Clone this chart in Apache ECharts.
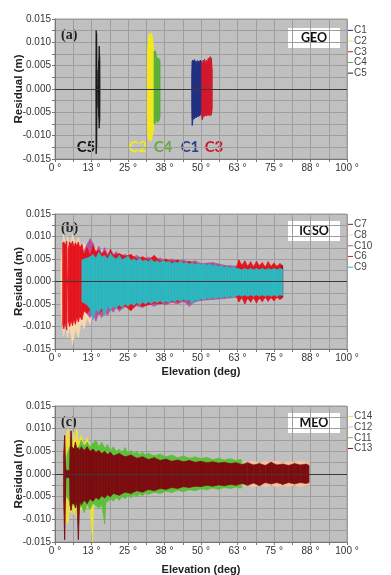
<!DOCTYPE html>
<html><head><meta charset="utf-8">
<script src="https://cdn.jsdelivr.net/npm/echarts@6/dist/echarts.min.js"></script>
<style>html,body{margin:0;padding:0;background:#fff}#c{width:391px;height:575px}</style>
</head><body><div id="c"></div>
<script>
// ---------- tick values ----------
const xMin = 0, xMax = 100, xStep = 6.25, xLabelStep = 12.5;
const yMin = -0.015, yMax = 0.015, yStep = 0.0025, yLabelStep = 0.005;

// ---------- (a) GEO ----------
const C5_el = [14.0, 14.1, 14.25, 14.4, 14.5, 14.9, 15.0, 15.15, 15.3, 15.4];
const C5_hi = [0, 0.0125, 0.0118, 0.004, 0.0005, 0.0005, 0.006, 0.0092, 0.007, 0];
const C5_lo = [0, -0.0139, -0.0125, -0.004, -0.0005, -0.0005, -0.006, -0.0084, -0.007, 0];

const C2_el = [31.6, 31.8, 32.0, 32.2, 32.5, 32.8, 33.1, 33.4, 33.7, 33.9];
const C2_hi = [0.004, 0.009, 0.011, 0.0115, 0.012, 0.0105, 0.012, 0.011, 0.0095, 0.007];
const C2_lo = [-0.005, -0.010, -0.011, -0.0105, -0.011, -0.0112, -0.0105, -0.010, -0.009, -0.008];

const C4_el = [33.9, 34.2, 34.5, 34.8, 35.2, 35.6, 36.0];
const C4_hi = [0.008, 0.0082, 0.0078, 0.0068, 0.0066, 0.0065, 0.006];
const C4_lo = [-0.0073, -0.0075, -0.007, -0.0068, -0.0072, -0.0068, -0.006];

const C1_el = [46.8, 47.0, 47.25, 47.5, 47.75, 48.0, 48.25, 48.5, 48.75, 49.0, 49.25, 49.5, 49.75, 50.0, 50.2];
const C1_hi = [0.003, 0.006, 0.0062, 0.0055, 0.0063, 0.0058, 0.006, 0.0052, 0.0061, 0.0057, 0.006, 0.0055, 0.0062, 0.006, 0.0058];
const C1_lo = [-0.004, -0.0078, -0.0066, -0.006, -0.0064, -0.0058, -0.0062, -0.006, -0.0057, -0.006, -0.0055, -0.0058, -0.0056, -0.0052, -0.005];

const C3_el = [50.2, 50.5, 50.75, 51.0, 51.25, 51.5, 51.75, 52.0, 52.25, 52.5, 52.75, 53.0, 53.3, 53.6, 53.9];
const C3_hi = [0.0058, 0.0055, 0.0062, 0.0056, 0.0064, 0.0058, 0.0052, 0.0062, 0.0057, 0.0066, 0.006, 0.0068, 0.0069, 0.0064, 0.004];
const C3_lo = [-0.0062, -0.0066, -0.0058, -0.006, -0.0055, -0.0057, -0.0054, -0.0058, -0.0052, -0.0056, -0.0055, -0.0058, -0.0052, -0.0056, -0.004];

// ---------- (b) IGSO ----------
const C8_el = [2, 3, 3.5, 4.3, 5, 6, 7, 8, 9, 10, 11, 12, 13, 14, 15, 16, 18, 20, 25, 30, 40, 50, 60, 70, 77];
const C8_hi = [0.004, 0.0105, 0.006, 0.010, 0.007, 0.0105, 0.008, 0.0098, 0.007, 0.0085, 0.0065, 0.009, 0.006, 0.0075, 0.0055, 0.007, 0.0055, 0.006, 0.0055, 0.0045, 0.004, 0.0036, 0.003, 0.0032, 0.003];
const C8_lo = [-0.006, -0.012, -0.008, -0.0125, -0.010, -0.014, -0.0105, -0.0125, -0.009, -0.0105, -0.008, -0.0095, -0.0065, -0.008, -0.006, -0.0075, -0.006, -0.0058, -0.0055, -0.0048, -0.0042, -0.0038, -0.0032, -0.0033, -0.003];

const C10_el = [10, 12, 13, 14, 15, 16, 17, 18, 19, 20, 21, 22, 24, 26, 28, 30, 32, 34, 36, 38, 40, 42, 44, 46, 48, 50, 54, 58, 62, 66, 70, 74, 77, 78];
const C10_hi = [0.007, 0.0095, 0.0085, 0.0065, 0.0078, 0.0062, 0.0075, 0.006, 0.0068, 0.006, 0.0066, 0.0055, 0.006, 0.0052, 0.0058, 0.005, 0.0054, 0.0048, 0.0052, 0.0046, 0.005, 0.0045, 0.0048, 0.0042, 0.0046, 0.004, 0.0042, 0.0036, 0.0034, 0.003, 0.0033, 0.0031, 0.0036, 0.003];
const C10_lo = [-0.0065, -0.008, -0.007, -0.0088, -0.007, -0.008, -0.0068, -0.0075, -0.0062, -0.0068, -0.0058, -0.0066, -0.0056, -0.0062, -0.0054, -0.0058, -0.005, -0.0055, -0.0048, -0.0052, -0.0046, -0.005, -0.0044, -0.0055, -0.0045, -0.0042, -0.004, -0.0038, -0.0035, -0.0034, -0.0036, -0.0033, -0.0035, -0.003];

const C6_el = [2.6, 3, 3.5, 4, 4.2, 4.4, 4.6, 5, 5.5, 6, 6.5, 7, 7.5, 8, 8.5, 9.2, 10, 11, 12, 13, 14, 15, 16, 17, 18, 19, 20, 22, 24, 26, 28, 30, 32, 34, 36, 38, 40, 42, 44, 46, 48, 50, 55, 60, 62, 63, 64, 65, 66, 67, 68, 69, 70, 71, 72, 73, 74, 75, 76, 77, 78];
const C6_hi = [0.0085, 0.0088, 0.008, 0.009, 0.0005, 0.0005, 0.0075, 0.0088, 0.0082, 0.009, 0.0078, 0.0086, 0.008, 0.0088, 0.0076, 0.0082, 0.006, 0.0075, 0.0058, 0.008, 0.0065, 0.007, 0.006, 0.0068, 0.0055, 0.0072, 0.0058, 0.0062, 0.0056, 0.006, 0.005, 0.0055, 0.0048, 0.0058, 0.0045, 0.005, 0.0044, 0.0048, 0.0042, 0.0045, 0.004, 0.0038, 0.0035, 0.0032, 0.003, 0.0048, 0.0036, 0.0046, 0.0034, 0.0044, 0.0033, 0.0045, 0.0035, 0.0042, 0.0032, 0.0044, 0.0034, 0.0041, 0.0033, 0.004, 0.0035];
const C6_lo = [-0.0095, -0.0105, -0.0092, -0.0108, -0.0005, -0.0005, -0.009, -0.010, -0.0088, -0.0098, -0.0085, -0.0095, -0.008, -0.009, -0.0078, -0.0085, -0.0065, -0.007, -0.0062, -0.008, -0.006, -0.0072, -0.0065, -0.006, -0.0058, -0.0062, -0.0056, -0.006, -0.0054, -0.0065, -0.005, -0.0055, -0.0052, -0.0048, -0.005, -0.0046, -0.0044, -0.0045, -0.0042, -0.0044, -0.004, -0.0038, -0.0036, -0.0034, -0.0032, -0.0045, -0.0036, -0.005, -0.0037, -0.0046, -0.0036, -0.0048, -0.0037, -0.0045, -0.0035, -0.0044, -0.0036, -0.0043, -0.0035, -0.004, -0.0036];

const C7_el = [77.5, 77.7, 77.9];
const C7_hi = [0.0035, 0.0036, 0.0034];
const C7_lo = [-0.0036, -0.0035, -0.0034];

const C9_el = [9.2, 10, 11, 12, 13, 14, 15, 16, 17, 18, 19, 20, 21, 22, 23, 24, 25, 26, 27, 28, 29, 30, 31, 32, 33, 34, 35, 36, 37, 38, 39, 40, 41, 42, 43, 44, 45, 46, 47, 48, 49, 50, 51, 52, 53, 54, 55, 56, 57, 58, 59, 60, 61, 62, 63, 64, 65, 66, 67, 68, 69, 70, 71, 72, 73, 74, 75, 76, 77, 78];
const C9_hi = [0.0048, 0.005, 0.0052, 0.0055, 0.006, 0.0052, 0.0065, 0.0055, 0.0058, 0.005, 0.0062, 0.0054, 0.005, 0.0058, 0.0048, 0.0052, 0.0056, 0.0047, 0.005, 0.0046, 0.0052, 0.0045, 0.0048, 0.0044, 0.005, 0.0043, 0.0046, 0.0042, 0.0047, 0.0043, 0.0045, 0.004, 0.0044, 0.0041, 0.0046, 0.004, 0.0043, 0.0039, 0.0042, 0.0038, 0.0041, 0.0037, 0.004, 0.0036, 0.0039, 0.0035, 0.0037, 0.0033, 0.0036, 0.0032, 0.0034, 0.0031, 0.0033, 0.003, 0.0028, 0.0026, 0.0029, 0.0026, 0.0029, 0.0026, 0.0029, 0.0026, 0.0029, 0.0026, 0.0029, 0.0026, 0.0029, 0.0026, 0.0029, 0.0027];
const C9_lo = [-0.0045, -0.0048, -0.0052, -0.006, -0.0085, -0.0062, -0.007, -0.0058, -0.0075, -0.0056, -0.0064, -0.0055, -0.006, -0.0052, -0.0058, -0.005, -0.0055, -0.0049, -0.0053, -0.0047, -0.0052, -0.0046, -0.005, -0.0045, -0.0049, -0.0044, -0.0047, -0.0043, -0.0048, -0.0044, -0.0046, -0.0042, -0.0045, -0.0041, -0.0044, -0.004, -0.0043, -0.0041, -0.005, -0.004, -0.0043, -0.0038, -0.0041, -0.0037, -0.0039, -0.0036, -0.0038, -0.0035, -0.0037, -0.0034, -0.0036, -0.0033, -0.0035, -0.0032, -0.003, -0.0033, -0.003, -0.0033, -0.003, -0.0033, -0.003, -0.0033, -0.003, -0.0033, -0.003, -0.0033, -0.003, -0.0033, -0.003, -0.0031];

// ---------- (c) MEO ----------
const C12_el = [10, 20, 30, 40, 50, 60, 64, 66, 68, 70, 72, 74, 76, 78, 80, 82, 84, 86, 87];
const C12_hi = [0.003, 0.003, 0.0028, 0.0026, 0.0025, 0.0024, 0.0028, 0.0025, 0.0029, 0.0024, 0.0028, 0.0025, 0.0029, 0.0024, 0.0028, 0.0025, 0.0029, 0.0026, 0.0026];
const C12_lo = [-0.003, -0.003, -0.0028, -0.0026, -0.0025, -0.0024, -0.0027, -0.0024, -0.0029, -0.0025, -0.0028, -0.0024, -0.0029, -0.0025, -0.0028, -0.0024, -0.0029, -0.0025, -0.0025];

const C14_el = [3.5, 3.8, 4.2, 4.6, 5.0, 5.5, 6, 6.5, 7, 7.5, 8, 9, 10, 11, 12, 12.8, 13.3, 14, 15, 16, 17, 18, 20];
const C14_hi = [0.002, 0.008, 0.0095, 0.010, 0.006, 0.0075, 0.006, 0.0092, 0.0065, 0.010, 0.007, 0.0085, 0.0065, 0.008, 0.006, 0.0065, 0.0068, 0.0055, 0.006, 0.005, 0.0055, 0.0045, 0.004];
const C14_lo = [-0.004, -0.010, -0.011, -0.0105, -0.007, -0.0085, -0.007, -0.009, -0.0075, -0.0095, -0.007, -0.008, -0.0065, -0.0075, -0.007, -0.015, -0.0065, -0.0062, -0.006, -0.0055, -0.0052, -0.0045, -0.004];

const C11_el = [4, 5, 6, 7, 8, 9, 10, 11, 12, 13, 14, 15, 16, 17, 17.5, 18, 19, 20, 21, 22, 23, 24, 25, 26, 27, 28, 29, 30, 31, 32, 34, 36, 38, 40, 42, 44, 46, 48, 50, 52, 54, 56, 58, 60, 62, 63.5, 64];
const C11_hi = [0.004, 0.006, 0.005, 0.0065, 0.0055, 0.0075, 0.0062, 0.007, 0.006, 0.0068, 0.0075, 0.006, 0.007, 0.0058, 0.006, 0.0065, 0.0052, 0.006, 0.005, 0.0055, 0.0048, 0.0058, 0.0046, 0.0052, 0.0045, 0.005, 0.0043, 0.0048, 0.0042, 0.0046, 0.004, 0.0044, 0.0038, 0.0042, 0.0036, 0.004, 0.0035, 0.0038, 0.0034, 0.0037, 0.0032, 0.0035, 0.0031, 0.0034, 0.003, 0.0032, 0.003];
const C11_lo = [-0.005, -0.006, -0.007, -0.0065, -0.008, -0.007, -0.0085, -0.0068, -0.0078, -0.0065, -0.007, -0.0075, -0.0068, -0.011, -0.006, -0.0062, -0.0055, -0.006, -0.0052, -0.0058, -0.005, -0.0054, -0.0048, -0.0052, -0.0046, -0.005, -0.0044, -0.0048, -0.0042, -0.0045, -0.004, -0.0043, -0.0038, -0.0041, -0.0036, -0.0039, -0.0035, -0.0037, -0.0033, -0.0035, -0.0031, -0.0034, -0.003, -0.0032, -0.0029, -0.0031, -0.003];

const C13_el = [2.9, 3.3, 3.6, 3.8, 5.0, 5.2, 5.5, 5.8, 6.5, 7, 7.5, 8, 8.5, 9, 10, 11, 12, 13, 14, 15, 16, 17, 18, 19, 20, 22, 24, 26, 28, 30, 32, 34, 36, 38, 40, 42, 44, 46, 48, 50, 52, 54, 56, 58, 60, 62, 64, 66, 68, 70, 72, 74, 76, 78, 80, 82, 84, 86, 87];
const C13_hi = [0.004, 0.0085, 0.003, 0.0008, 0.0008, 0.0055, 0.0095, 0.006, 0.0055, 0.007, 0.0055, 0.0058, 0.0052, 0.006, 0.0052, 0.006, 0.005, 0.0055, 0.0048, 0.0052, 0.0045, 0.005, 0.0043, 0.0048, 0.004, 0.0045, 0.0038, 0.0042, 0.0035, 0.0038, 0.0032, 0.0036, 0.003, 0.0033, 0.0028, 0.0031, 0.0027, 0.003, 0.0026, 0.0028, 0.0025, 0.0027, 0.0024, 0.0026, 0.0023, 0.0025, 0.0021, 0.0025, 0.002, 0.0023, 0.0019, 0.0026, 0.002, 0.0022, 0.0019, 0.0023, 0.002, 0.0022, 0.0019];
const C13_lo = [-0.005, -0.0145, -0.006, -0.0008, -0.0008, -0.007, -0.008, -0.0065, -0.0065, -0.0075, -0.006, -0.0145, -0.006, -0.0068, -0.0058, -0.0065, -0.0055, -0.006, -0.0052, -0.0056, -0.0048, -0.0053, -0.0046, -0.005, -0.0043, -0.0047, -0.004, -0.0043, -0.0037, -0.004, -0.0034, -0.0037, -0.0032, -0.0034, -0.003, -0.0032, -0.0028, -0.003, -0.0027, -0.0028, -0.0025, -0.0027, -0.0024, -0.0026, -0.0023, -0.0025, -0.0021, -0.0025, -0.002, -0.0026, -0.0019, -0.0022, -0.0019, -0.0023, -0.0019, -0.0022, -0.0019, -0.0021, -0.0019];

// ---------- helpers ----------
function segs(el, hi, lo) {
  const out = [];
  for (let i = 0; i < el.length - 1; i++) out.push([el[i], hi[i], lo[i], el[i + 1], hi[i + 1], lo[i + 1]]);
  return out;
}
function renderBand(params, api) {
  const col = api.visual('color');
  const a = api.coord([api.value(0), api.value(1)]);
  const b = api.coord([api.value(3), api.value(4)]);
  const c = api.coord([api.value(3), api.value(5)]);
  const d = api.coord([api.value(0), api.value(2)]);
  return { type: 'polygon', shape: { points: [a, b, c, d] }, style: { fill: col, stroke: col, lineWidth: 0.6 } };
}
function band(name, color, el, hi, lo, idx, zeroLine) {
  const s = {
    name: name, type: 'custom', xAxisIndex: idx, yAxisIndex: idx,
    renderItem: renderBand, data: segs(el, hi, lo),
    encode: { x: [0, 3], y: [1, 2, 4, 5] },
    itemStyle: { color: color }, silent: true, animation: false
  };
  if (zeroLine) s.markLine = { silent: true, symbol: 'none', label: { show: false }, lineStyle: { color: '#3a3a3a', width: 1, type: 'solid' }, data: [{ yAxis: 0 }] };
  return s;
}

const grids = [
  { left: 55, top: 19, width: 292, height: 140 },
  { left: 55, top: 214, width: 292, height: 135 },
  { left: 55, top: 406, width: 292, height: 136 }
];
const axisFont = { fontFamily: 'Liberation Sans, Arial, sans-serif', fontSize: 10, color: '#333' };
function xAx(i, named, gap) {
  return {
    type: 'value', gridIndex: i, min: xMin, max: xMax, interval: xStep,
    name: named ? 'Elevation (deg)' : '', nameLocation: 'middle', nameGap: gap, nameMoveOverlap: false,
    nameTextStyle: { fontFamily: 'Liberation Sans, Arial, sans-serif', fontSize: 11, fontWeight: 'bold', color: '#222' },
    axisLine: { show: true, onZero: false, lineStyle: { color: '#777' } },
    axisTick: { show: true, length: 3, lineStyle: { color: '#777' } },
    axisLabel: Object.assign({ margin: 4, formatter: v => Math.abs(v / xLabelStep - Math.round(v / xLabelStep)) < 1e-6 ? Math.round(v) + ' °' : '' }, axisFont),
    splitLine: { show: true, lineStyle: { color: '#9e9e9e', width: 1 } }
  };
}
function yAx(i) {
  return {
    type: 'value', gridIndex: i, min: yMin, max: yMax, interval: yStep,
    name: 'Residual (m)', nameLocation: 'middle', nameGap: 30, nameRotate: 90, nameMoveOverlap: false,
    nameTextStyle: { fontFamily: 'Liberation Sans, Arial, sans-serif', fontSize: 11.5, fontWeight: 'bold', color: '#222' },
    axisLine: { show: true, lineStyle: { color: '#777' } },
    axisTick: { show: true, length: 3, lineStyle: { color: '#777' } },
    axisLabel: Object.assign({ margin: 4, formatter: v => {
      if (Math.abs(v / yLabelStep - Math.round(v / yLabelStep)) > 1e-6) return '';
      if (Math.abs(v) < 1e-9) return '0.000';
      return v.toFixed(3);
    } }, axisFont),
    splitLine: { show: true, lineStyle: { color: '#9e9e9e', width: 1 } }
  };
}

const legendBase = {
  orient: 'vertical', left: 348, icon: 'rect', itemWidth: 5, itemHeight: 1, itemGap: 0,
  padding: 0, selectedMode: false,
  textStyle: { fontFamily: 'Liberation Sans, Arial, sans-serif', fontSize: 10, color: '#444', lineHeight: 10.7, padding: [0, 0, 0, -4] }
};

const boxText = (txt, y) => ({
  type: 'group', left: 288, top: y, children: [
    { type: 'rect', shape: { x: 0, y: 0, width: 52, height: 20 }, style: { fill: '#fff' } },
    { type: 'text', x: 26, y: 10, style: { text: txt, fill: '#111', font: 'bold 12.5px Lato, "Open Sans", sans-serif', textAlign: 'center', textVerticalAlign: 'middle' } }
  ]
});
const panelTag = (txt, y) => ({ type: 'text', left: 61, top: y, style: { text: txt, fill: '#222', font: 'bold 14px "Liberation Serif", "DejaVu Serif", serif' } });
const satLabel = (txt, x, color) => ({ type: 'text', x: x, y: 147, style: { text: txt, fill: color, font: 'bold 15px Lato, "Open Sans", sans-serif', textAlign: 'center', textVerticalAlign: 'middle' } });

const option = {
  backgroundColor: '#fff',
  animation: false,
  grid: grids.map(g => Object.assign({ show: true, backgroundColor: '#c0c0c0', borderColor: '#999', borderWidth: 1, outerBoundsMode: 'none' }, g)),
  xAxis: [xAx(0, false, 19), xAx(1, true, 17), xAx(2, true, 22)],
  yAxis: [yAx(0), yAx(1), yAx(2)],
  legend: [
    Object.assign({}, legendBase, { top: 25, data: ['C1', 'C2', 'C3', 'C4', 'C5'] }),
    Object.assign({}, legendBase, { top: 219, data: ['C7', 'C8', 'C10', 'C6', 'C9'] }),
    Object.assign({}, legendBase, { top: 411, data: ['C14', 'C12', 'C11', 'C13'] })
  ],
  series: [
    band('C5', '#1a1a1a', C5_el, C5_hi, C5_lo, 0, true),
    band('C2', '#f3ea1c', C2_el, C2_hi, C2_lo, 0),
    band('C4', '#5aae3a', C4_el, C4_hi, C4_lo, 0),
    band('C1', '#1e2f82', C1_el, C1_hi, C1_lo, 0),
    band('C3', '#d3162b', C3_el, C3_hi, C3_lo, 0),

    band('C8', '#f8d8ae', C8_el, C8_hi, C8_lo, 1, true),
    band('C10', '#bb4f9f', C10_el, C10_hi, C10_lo, 1),
    band('C6', '#e5131d', C6_el, C6_hi, C6_lo, 1),
    band('C7', '#8e1f23', C7_el, C7_hi, C7_lo, 1),
    band('C9', '#2cb8c1', C9_el, C9_hi, C9_lo, 1),

    band('C12', '#f3c3a0', C12_el, C12_hi, C12_lo, 2, true),
    band('C14', '#efe234', C14_el, C14_hi, C14_lo, 2),
    band('C11', '#5cc03a', C11_el, C11_hi, C11_lo, 2),
    band('C13', '#7c0c10', C13_el, C13_hi, C13_lo, 2)
  ],
  graphic: [
    boxText('GEO', 28), boxText('IGSO', 221), boxText('MEO', 413),
    panelTag('(a)', 28), panelTag('(b)', 221), panelTag('(c)', 415),
    satLabel('C5', 86, '#111'), satLabel('C2', 138, '#f3ea1c'), satLabel('C4', 163, '#5aae3a'),
    satLabel('C1', 190, '#2a3f93'), satLabel('C3', 214, '#d3162b')
  ]
};
const chart = echarts.init(document.getElementById('c'), null, { renderer: 'canvas' });
chart.setOption(option);
</script>
</body></html>
